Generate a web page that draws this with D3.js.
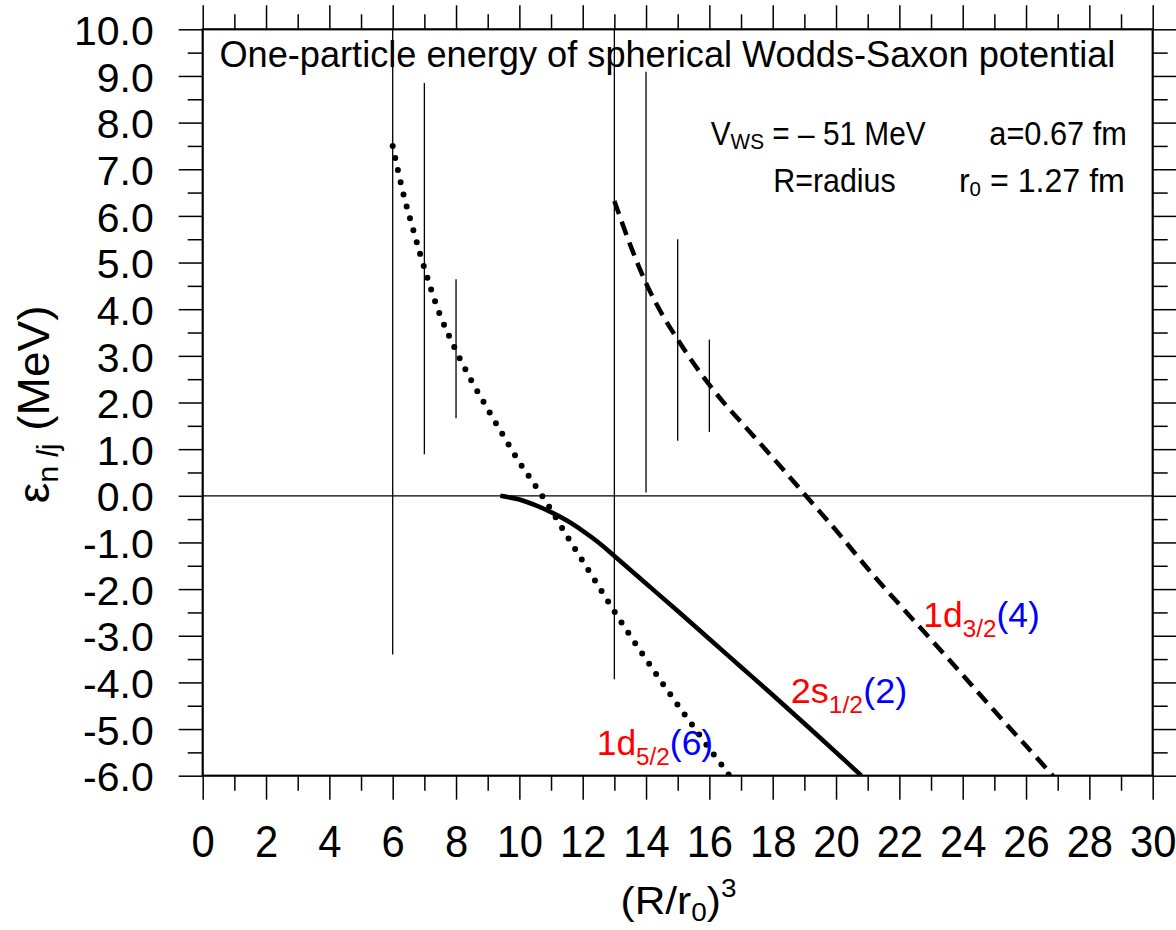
<!DOCTYPE html>
<html>
<head>
<meta charset="utf-8">
<script src="https://cdn.jsdelivr.net/npm/d3@7"></script>
<style>
body { margin: 0; background: #fff; }
text { font-family: "Liberation Sans", Arial, Helvetica, sans-serif; fill: #000; }
</style>
</head>
<body>
<script>
// one-particle levels, (R/r0)^3 against energy in MeV
var d52X = [6.0, 6.33, 6.65, 6.97, 7.47, 7.97, 8.5, 9.0, 9.5, 10.0, 10.5, 11.0, 11.5, 12.0, 12.5, 13.0, 13.5, 14.0, 14.5, 15.0, 15.5, 16.0, 16.5, 16.63]
var d52Y = [7.5, 6.49, 5.70, 4.95, 3.92, 3.15, 2.45, 1.86, 1.28, 0.72, 0.22, -0.30, -0.86, -1.40, -1.94, -2.48, -3.0, -3.5, -4.0, -4.48, -4.95, -5.42, -5.87, -6.0]

var s12X = [9.4, 10.0, 10.5, 11.0, 11.5, 12.0, 12.5, 13.0, 14.0, 15.0, 16.0, 17.0, 18.0, 19.0, 20.0, 20.8]
var s12Y = [0.0, -0.08, -0.2, -0.35, -0.53, -0.75, -1.0, -1.29, -1.88, -2.47, -3.07, -3.67, -4.27, -4.88, -5.5, -6.0]

var d32X = [13.0, 13.5, 14.0, 14.5, 15.0, 15.5, 16.0, 16.5, 17.0, 17.5, 18.0, 18.5, 19.0, 19.5, 20.0, 21.0, 22.0, 23.0, 24.0, 25.0, 26.0, 26.85]
var d32Y = [6.32, 5.38, 4.56, 3.9, 3.35, 2.84, 2.38, 1.96, 1.58, 1.2, 0.82, 0.43, 0.04, -0.35, -0.74, -1.56, -2.33, -3.08, -3.84, -4.61, -5.36, -6.0]

// thin vertical markers
var barX = [6, 7, 8, 13, 14, 15, 16]
var barLo = [-3.4, 0.89, 1.66, -3.93, 0.07, 1.18, 1.37]
var barHi = [10, 8.85, 4.64, 10, 9.09, 5.5, 3.35]

var xMajor = d3.range(0, 31, 2)
var xMinor = d3.range(1, 30, 2)
var yMajor = d3.range(-6, 10.01, 1)
var yMinor = d3.range(-5.5, 10, 1)

WIDTH = 1176
HEIGHT = 930
LEFT = 202.7
RIGHT = 1152.7
TOP = 29.3
BOTTOM = 775.7

var svg = d3.select("body").append("svg")
  .attr("width", WIDTH).attr("height", HEIGHT)

var x = d3.scaleLinear().domain([0, 30]).range([LEFT, RIGHT])
var y = d3.scaleLinear().domain([-6, 10]).range([BOTTOM, TOP])

function zip(xs, ys) {
  return xs.map(function(v, i) { return [v, ys[i]] })
}

// squeeze a text group to the width it has in the picture
function fit(g, w) {
  var bw = g.select("text").node().getBBox().width
  g.attr("transform", g.attr("transform") + " scale(" + (w / bw) + ",1)")
}

function label(px, py, size, w) {
  var g = svg.append("g").attr("transform", "translate(" + px + "," + py + ")")
  var t = g.append("text").attr("x", 0).attr("y", 0).style("font-size", size + "px")
  return {g: g, t: t, done: function() { fit(g, w) }}
}

svg.append("clipPath").attr("id", "plot")
  .append("rect").attr("x", LEFT).attr("y", TOP)
  .attr("width", RIGHT - LEFT).attr("height", BOTTOM - TOP)

// axes: major and minor ticks on all four sides
function ticks(axis, values, size, transform) {
  var g = svg.append("g").attr("transform", transform)
    .call(axis.tickValues(values).tickSize(size).tickSizeOuter(0).tickFormat(""))
  g.select(".domain").remove()
  g.selectAll("line").attr("stroke", "#000").attr("stroke-width", 1.5)
  return g
}
var xb = ticks(d3.axisBottom(x), xMajor, 24, "translate(0," + BOTTOM + ")")
ticks(d3.axisBottom(x), xMinor, 15, "translate(0," + BOTTOM + ")")
ticks(d3.axisTop(x), xMajor, 24, "translate(0," + TOP + ")")
ticks(d3.axisTop(x), xMinor, 15, "translate(0," + TOP + ")")
var yl = ticks(d3.axisLeft(y), yMajor, 24, "translate(" + LEFT + ",0)")
ticks(d3.axisLeft(y), yMinor, 15, "translate(" + LEFT + ",0)")
ticks(d3.axisRight(y), yMajor, 24, "translate(" + RIGHT + ",0)")
ticks(d3.axisRight(y), yMinor, 15, "translate(" + RIGHT + ",0)")

xb.selectAll(".tick text")
  .text(function(d) { return d })
  .attr("y", 50).attr("dy", "0.716em")
  .attr("transform", "scale(0.95,1)")
  .style("font-size", "44px").attr("fill", "#000")

yl.selectAll(".tick text")
  .text(function(d) { return d3.format(".1f")(d).replace("−", "-") })
  .attr("x", -49).attr("dy", "0.37em")
  .style("font-size", "41px").attr("fill", "#000")

// zero line and frame
svg.append("line")
  .attr("x1", LEFT).attr("x2", RIGHT).attr("y1", y(0)).attr("y2", y(0))
  .attr("stroke", "#000").attr("stroke-width", 1.3)

svg.append("g").attr("clip-path", "url(#plot)").selectAll("line.bar")
  .data(barX).enter().append("line")
  .attr("class", "bar")
  .attr("x1", function(d) { return x(d) }).attr("x2", function(d) { return x(d) })
  .attr("y1", function(d, i) { return y(barHi[i]) })
  .attr("y2", function(d, i) { return y(barLo[i]) })
  .attr("stroke", "#000").attr("stroke-width", 1.3)

var line = d3.line()
  .x(function(d) { return x(d[0]) })
  .y(function(d) { return y(d[1]) })
  .curve(d3.curveCatmullRom.alpha(0.5))

var curves = svg.append("g").attr("clip-path", "url(#plot)")
curves.append("path").attr("d", line(zip(d52X, d52Y)))
  .attr("fill", "none").attr("stroke", "#000").attr("stroke-width", 6)
  .attr("stroke-linecap", "round").attr("stroke-dasharray", "0 12.4")
curves.append("path").attr("d", line(zip(s12X, s12Y)))
  .attr("fill", "none").attr("stroke", "#000").attr("stroke-width", 4.5)
curves.append("path").attr("d", line(zip(d32X, d32Y)))
  .attr("fill", "none").attr("stroke", "#000").attr("stroke-width", 4.5)
  .attr("stroke-dasharray", "14 8")

svg.append("rect")
  .attr("x", LEFT).attr("y", TOP).attr("width", RIGHT - LEFT).attr("height", BOTTOM - TOP)
  .attr("fill", "none").attr("stroke", "#000").attr("stroke-width", 2.2)

// title and parameters
var title = label(219.4, 66.5, 37, 896.4)
title.t.text("One-particle energy of spherical Wodds-Saxon potential")
title.done()

var v = label(710.7, 145, 33, 215)
v.t.append("tspan").text("V")
v.t.append("tspan").attr("dy", 4.3).style("font-size", "23px").text("WS")
v.t.append("tspan").attr("dy", -4.3).text(" = \u2013 51 MeV")
v.done()

var a = label(989.3, 145, 33, 137.5)
a.t.text("a=0.67 fm")
a.done()

var r = label(773.2, 191.7, 33, 122.5)
r.t.text("R=radius")
r.done()

var r0 = label(958.9, 191.7, 33, 166)
r0.t.append("tspan").text("r")
r0.t.append("tspan").attr("dy", 4.3).style("font-size", "21px").text("0")
r0.t.append("tspan").attr("dy", -4.3).text(" = 1.27 fm")
r0.done()

// curve names, red level and blue occupancy
function level(px, py, head, sub, occ) {
  var l = label(px, py, 35, 116.5)
  l.t.append("tspan").attr("fill", "#ff0000").text(head)
  l.t.append("tspan").attr("fill", "#ff0000").attr("dy", 10).style("font-size", "24px").text(sub)
  l.t.append("tspan").attr("fill", "#0000ff").attr("dy", -10).text("(" + occ + ")")
  l.done()
}
level(923.3, 626.7, "1d", "3/2", 4)
level(790.7, 703.3, "2s", "1/2", 2)
level(596.7, 755, "1d", "5/2", 6)

// axis titles
var xt = label(620.5, 914, 38, 116)
xt.t.append("tspan").text("(R/r")
xt.t.append("tspan").attr("dy", 6.5).style("font-size", "25px").text("0")
xt.t.append("tspan").attr("dy", -6.5).text(")")
xt.t.append("tspan").attr("dy", -17).style("font-size", "25px").text("3")
xt.done()

var yt = svg.append("g").attr("transform", "translate(48.5,503.3) rotate(-90)")
var ytt = yt.append("text").style("font-size", "45px")
ytt.append("tspan").text("\u03b5")
ytt.append("tspan").attr("dy", 9).style("font-size", "30px").text("n ")
ytt.append("tspan").style("font-size", "30px").style("font-style", "italic").text("l")
ytt.append("tspan").style("font-size", "30px").text("j")
ytt.append("tspan").attr("dy", -9).text(" (MeV)")
fit(yt, 198)
</script>
</body>
</html>
